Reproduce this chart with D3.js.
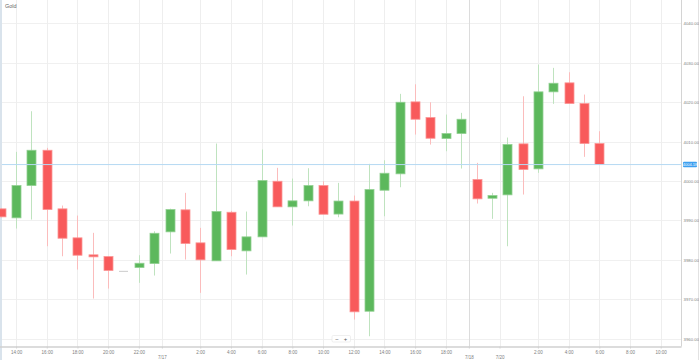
<!DOCTYPE html>
<html>
<head>
<meta charset="utf-8">
<script src="https://cdn.jsdelivr.net/npm/d3@7"></script>
<style>
  body { margin: 0; background: #fff; }
  svg { display: block; font-family: "Liberation Sans", Arial, sans-serif; }
  .axis path, .axis line { stroke: #d0d0d0; }
  .axis text { fill: #808080; }
</style>
</head>
<body>
<script>
// hourly candles, one slot each (slot 0 = left edge)
var opens = [3992.95, 3990.67, 3998.86, 4007.81, 3992.95, 3985.60, 3981.29, 3980.86, 3977.23, 3978.07,
  3979.08, 3987.12, 3992.70, 3984.33, 3979.77, 3992.09, 3982.30, 3985.85, 3999.95, 3993.46,
  3994.98, 3998.86, 3991.63, 3994.93, 3966.99, 3997.67, 4001.83, 4020.08, 4016.10, 4010.78,
  4012.04, 4000.38, 3995.64, 3996.50, 4009.43, 4003.09, 4022.62, 4024.90, 4019.65, 4009.51];
var highs = [3993.10, 4007.40, 4017.70, 4008.42, 3993.79, 3991.25, 3986.87, 3980.86, 3977.23, 3981.19,
  3987.27, 3993.00, 3997.01, 3988.13, 4009.51, 3992.44, 3992.27, 4007.99, 4003.35, 4000.63,
  4003.25, 3999.95, 3999.54, 3996.32, 4004.36, 4005.27, 4022.11, 4024.54, 4019.98, 4016.86,
  4017.29, 4004.61, 3997.01, 4011.03, 4021.50, 4029.54, 4028.70, 4027.59, 4021.93, 4012.63];
var lows = [3990.80, 3987.96, 3990.24, 3983.47, 3980.93, 3977.56, 3970.21, 3972.74, 3977.23, 3974.19,
  3976.04, 3981.62, 3980.10, 3971.65, 3979.77, 3980.93, 3976.29, 3985.85, 3993.46, 3988.72,
  3993.61, 3991.58, 3990.82, 3964.88, 3960.65, 3991.08, 3998.43, 4011.79, 4009.25, 4007.56,
  4003.17, 3994.30, 3990.42, 3983.47, 3996.58, 4002.08, 4019.57, 4019.65, 4006.14, 4004.18];
var closes = [3990.92, 3998.86, 4007.81, 3992.77, 3985.50, 3981.19, 3980.78, 3977.31, 3977.23, 3979.16,
  3986.76, 3992.77, 3984.15, 3980.02, 3992.27, 3982.63, 3985.85, 4000.13, 3993.46, 3994.98,
  3998.86, 3991.58, 3994.93, 3966.84, 3997.84, 4001.98, 4019.98, 4015.67, 4010.85, 4012.04,
  4015.67, 3995.49, 3996.32, 4009.25, 4002.92, 4022.62, 4024.80, 4019.65, 4009.51, 4004.18];

var timeTickSlots = [1, 3, 5, 7, 9, 13, 15, 17, 19, 21, 23, 25, 27, 29, 35, 37, 39, 41, 43];
var timeTickLabels = ["14:00", "16:00", "18:00", "20:00", "22:00", "2:00", "4:00", "6:00", "8:00", "10:00",
  "12:00", "14:00", "16:00", "18:00", "2:00", "4:00", "6:00", "8:00", "10:00"];
var dateTickSlots = [10.5, 30.5, 32.5];
var dateTickLabels = ["7/17", "7/18", "7/20"];
var priceTicks = [3960, 3970, 3980, 3990, 4000, 4010, 4020, 4030, 4040];
var title = "Gold";

var width = 699, height = 360;
var plotRight = 681.5, plotBottom = 346.5;

var xScale = d3.scaleLinear().domain([0, 39]).range([0.7, 599.3]);
var yScale = d3.scaleLinear().domain([3960, 4040]).range([338.8, 23.3]);

var svg = d3.select("body").append("svg")
    .attr("width", width)
    .attr("height", height);

// grid
svg.append("g").selectAll("line")
    .data(priceTicks)
    .join("line")
    .attr("x1", 0).attr("x2", plotRight)
    .attr("y1", function (d) { return Math.round(yScale(d)) + 0.5; })
    .attr("y2", function (d) { return Math.round(yScale(d)) + 0.5; })
    .attr("stroke", "#f0f0f0");

var allSlots = timeTickSlots.concat(dateTickSlots);
svg.append("g").selectAll("line")
    .data(allSlots)
    .join("line")
    .attr("x1", function (d) { return Math.round(xScale(d)) + 0.5; })
    .attr("x2", function (d) { return Math.round(xScale(d)) + 0.5; })
    .attr("y1", 0).attr("y2", plotBottom)
    .attr("stroke", function (d) { return d === 30.5 ? "#dcdcdc" : "#eeeeee"; });

// left / right frame
svg.append("rect").attr("x", 0).attr("y", 0).attr("width", 2).attr("height", height).attr("fill", "#d9e3ec");
svg.append("line").attr("x1", 698.5).attr("x2", 698.5).attr("y1", 0).attr("y2", height).attr("stroke", "#e2e2e2");

// candles
var idx = d3.range(opens.length);
function colorOf(i, light) {
  if (closes[i] > opens[i]) return light ? "#bfe3bf" : "#5cb85c";
  if (closes[i] < opens[i]) return light ? "#fbbcbc" : "#f85a5b";
  return "#cccccc";
}

var candles = svg.append("g");
candles.selectAll("line.wick")
    .data(idx)
    .join("line")
    .attr("class", "wick")
    .attr("x1", function (i) { return Math.round(xScale(i)) + 0.5; })
    .attr("x2", function (i) { return Math.round(xScale(i)) + 0.5; })
    .attr("y1", function (i) { return yScale(highs[i]); })
    .attr("y2", function (i) { return yScale(lows[i]); })
    .attr("stroke", function (i) { return colorOf(i, true); });

candles.selectAll("rect.body")
    .data(idx)
    .join("rect")
    .attr("class", "body")
    .attr("x", function (i) { return Math.round(xScale(i)) - 4; })
    .attr("width", 9)
    .attr("y", function (i) { return Math.min(yScale(opens[i]), yScale(closes[i])); })
    .attr("height", function (i) { return Math.max(1, Math.abs(yScale(opens[i]) - yScale(closes[i]))); })
    .attr("fill", function (i) { return colorOf(i, false); })
    .attr("stroke", function (i) { return closes[i] === opens[i] ? "none" : (closes[i] > opens[i] ? "#92d092" : "#fb9696"); })
    .attr("stroke-width", 0.8);

// last price line
var lastPrice = closes[closes.length - 1];
svg.append("line")
    .attr("x1", 2).attr("x2", plotRight)
    .attr("y1", yScale(lastPrice)).attr("y2", yScale(lastPrice))
    .attr("stroke", "#b5d9f3");

// right price axis
var yAxis = svg.append("g")
    .attr("class", "axis")
    .attr("transform", "translate(" + plotRight + ",0)")
    .call(d3.axisRight(yScale).tickValues(priceTicks).tickSize(0).tickPadding(2)
      .tickFormat(function (d) { return d.toFixed(2); }));
yAxis.select(".domain").remove();
yAxis.selectAll("text").style("font-size", "4.3px");
svg.append("line").attr("x1", plotRight).attr("x2", plotRight).attr("y1", 0).attr("y2", plotBottom).attr("stroke", "#d4d4d4");

// price badge
svg.append("rect")
    .attr("x", 683).attr("y", yScale(lastPrice) - 2.8)
    .attr("width", 14).attr("height", 5.6).attr("rx", 1)
    .attr("fill", "#3d9ff0");
svg.append("text")
    .attr("x", 690).attr("y", yScale(lastPrice))
    .attr("dy", "0.35em")
    .attr("text-anchor", "middle")
    .style("font-size", "4px")
    .attr("fill", "#fff")
    .text(lastPrice.toFixed(2));

// bottom time axis
var xAxis = svg.append("g")
    .attr("class", "axis")
    .attr("transform", "translate(0," + plotBottom + ")")
    .call(d3.axisBottom(xScale).tickValues(timeTickSlots).tickSize(2).tickPadding(2)
      .tickFormat(function (d, i) { return timeTickLabels[i]; }));
xAxis.select(".domain").attr("d", "M0,0.5H" + plotRight).attr("stroke", "#d4d4d4").attr("stroke-width", 1.5);
xAxis.selectAll("text").style("font-size", "4.5px");

var dAxis = svg.append("g")
    .attr("class", "axis")
    .attr("transform", "translate(0," + plotBottom + ")")
    .call(d3.axisBottom(xScale).tickValues(dateTickSlots).tickSize(2).tickPadding(7)
      .tickFormat(function (d, i) { return dateTickLabels[i]; }));
dAxis.select(".domain").remove();
dAxis.selectAll("text").style("font-size", "4.5px");

// title
svg.append("text")
    .attr("x", 5).attr("y", 7.5)
    .style("font-size", "5.5px")
    .attr("fill", "#666")
    .text(title);

// zoom control
var zc = svg.append("g").attr("transform", "translate(332,335.5)");
zc.append("rect").attr("width", 18.5).attr("height", 6.5).attr("rx", 1.2)
    .attr("fill", "#fff").attr("stroke", "#e4e4e4").attr("stroke-width", 0.6);
zc.append("text").attr("x", 5).attr("y", 5).attr("text-anchor", "middle")
    .style("font-size", "6px").attr("fill", "#555").text("−");
zc.append("text").attr("x", 13.5).attr("y", 5.2).attr("text-anchor", "middle")
    .style("font-size", "6px").attr("fill", "#555").text("+");
</script>
</body>
</html>
